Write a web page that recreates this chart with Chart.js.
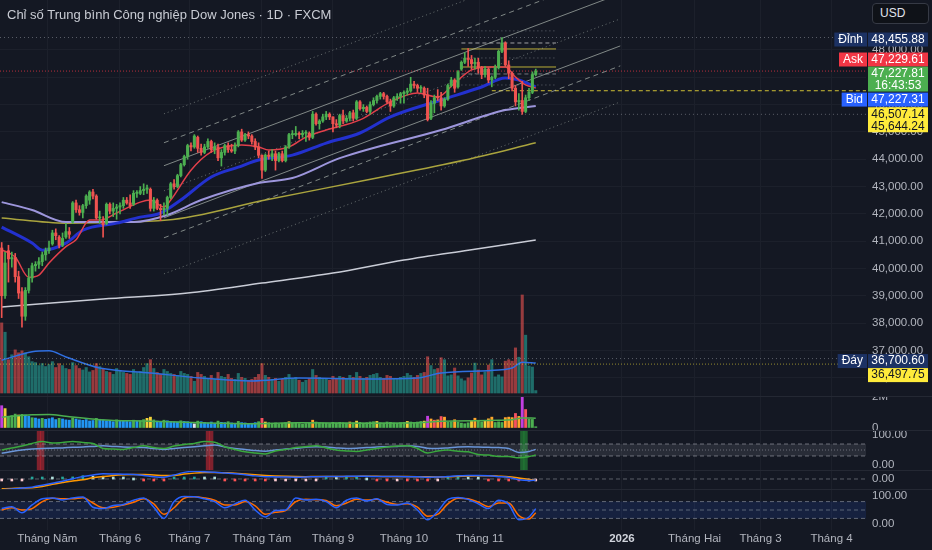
<!DOCTYPE html>
<html lang="vi">
<head>
  <meta charset="UTF-8">
  <title>Chỉ số Trung bình Công nghiệp Dow Jones · 1D · FXCM</title>
  <script src="https://cdn.jsdelivr.net/npm/chart.js"></script>
  <style>
    body { margin: 0; background: #141823; font-family: 'Liberation Sans', Arial, sans-serif; }
    #wrap { position: relative; width: 932px; height: 550px; overflow: hidden; background: #141823; }
    canvas { position: absolute; left: 0; }
    #title { position: absolute; left: 7px; top: 7px; font-size: 13px; color: #c9ccd4; z-index: 3; }
    #usd {
      position: absolute; left: 872px; top: 3px; width: 48px; height: 19px; padding-left: 7px;
      border: 1px solid #363a45; border-radius: 4px; background: #0f1218;
      color: #e0e3eb; font-size: 12px; line-height: 19px; z-index: 3;
    }
    .sep { position: absolute; left: 0; width: 932px; height: 1px; background: #242833; z-index: 2; }
  </style>
</head>
<body>
  <div id="wrap">
    <div id="title">Chỉ số Trung bình Công nghiệp Dow Jones · 1D · FXCM</div>
    <div id="usd">USD</div>
    <canvas id="cPrice" width="932" height="396" style="top:0"></canvas>
    <canvas id="cVol" width="932" height="34" style="top:396px"></canvas>
    <canvas id="cRsi" width="932" height="40" style="top:430px"></canvas>
    <canvas id="cMacd" width="932" height="19" style="top:470px"></canvas>
    <canvas id="cStoch" width="932" height="61" style="top:489px"></canvas>
    <div class="sep" style="top:396px"></div>
    <div class="sep" style="top:430px"></div>
    <div class="sep" style="top:470px"></div>
    <div class="sep" style="top:489px"></div>
  </div>
  <script>
    // bar index 0 = first visible daily candle (mid April 2025)
    const monthTicks = [13.5, 35, 55.5, 77, 98, 119, 141.5, 183.5, 205, 224.5, 245.5];
    const monthLabels = ['Tháng Năm', 'Tháng 6', 'Tháng 7', 'Tháng Tám', 'Tháng 9', 'Tháng 10', 'Tháng 11', '2026', 'Tháng Hai', 'Tháng 3', 'Tháng 4'];

    const opens = [
      40750,39000,40650,40350,40400,39700,39150,38250,39200,39650,
      40100,40150,40250,40500,40650,40900,41300,41150,40850,41150,
      41350,41700,42400,42150,42050,42300,42500,42800,42650,41850,
      41700,41650,42350,42100,42200,42250,42300,42500,42400,42350,
      42750,42750,42850,42900,42900,42200,42500,42200,42150,42200,
      42600,43100,43000,43400,43800,44100,44500,44450,44800,44400,
      44250,44450,44650,44350,44450,44050,44250,44500,44350,44300,
      44500,45000,44700,44900,44850,44650,44450,44150,43600,44150,
      44100,44200,43950,44200,43950,44450,44900,44900,44950,44900,
      44950,44950,44800,45650,45300,45400,45550,45650,45550,45300,
      45250,45600,45400,45500,45700,45500,46100,45850,45900,45750,
      46000,46150,46300,46400,46300,46100,45950,46250,46300,46400,
      46450,46500,46750,46700,46600,46600,46350,45500,46050,46300,
      46250,45950,46200,46700,46900,46650,47300,47550,47700,47650,
      47500,47550,47350,47100,47300,46900,47000,47350,47950,48250,
      47450,47150,46600,46100,46150,45750,46250,46450,47100
    ];
    const highs = [
      40950,40600,40850,40600,40550,39900,39300,39300,40000,40200,
      40250,40400,40600,40750,41000,41400,41450,41200,41300,41650,
      41500,42450,42500,42300,42350,42700,42850,42900,42700,42100,
      41900,42400,42400,42400,42350,42400,42600,42600,42700,42850,
      42850,43000,43100,43050,42950,42600,42550,42350,42400,42650,
      43150,43250,43450,43850,44150,44550,44600,44900,44850,44550,
      44550,44750,44700,44600,44550,44350,44550,44600,44550,44600,
      45050,45100,44950,45000,44900,44750,44600,44150,44200,44300,
      44350,44300,44250,44300,44500,44950,45050,45200,45000,45050,
      45050,45000,45750,45700,45450,45650,45750,45700,45550,45450,
      45650,45800,45600,45750,45800,46150,46150,46000,45950,46100,
      46250,46350,46450,46450,46350,46200,46300,46400,46450,46500,
      46600,47000,46850,46750,46700,46650,46600,46150,46350,46550,
      46450,46250,46750,47000,46950,47250,47600,47900,48050,47800,
      47700,47700,47400,47400,47350,47050,47450,48000,48456,48300,
      47600,47200,46700,46400,46850,46350,46600,47200,47300
    ];
    const lows = [
      38200,38900,39500,40050,39500,38900,37850,38100,39100,39500,
      39900,40000,40100,40300,40550,40850,41050,40750,40800,41100,
      41100,41650,42050,41950,41850,42200,42350,42550,41800,41650,
      41150,41600,42000,41900,41800,42000,42200,42350,42200,42300,
      42600,42700,42700,42750,42100,42100,42150,41750,41950,41950,
      42550,42900,42950,43350,43750,44000,44300,44400,44250,44150,
      44200,44400,44250,44200,43950,43750,44150,44250,44250,44200,
      44450,44650,44650,44750,44550,44350,44050,43300,43550,44000,
      43950,43600,43900,43900,43900,44400,44750,44850,44750,44800,
      44650,44700,44750,45250,45100,45350,45450,45450,45000,45150,
      45150,45300,45350,45400,45400,45450,45800,45750,45700,45650,
      45950,46050,46200,46200,46050,45750,45900,46150,46050,46050,
      46350,46450,46600,46450,46450,46250,45400,45450,45700,46150,
      45800,45900,46150,46650,46450,46600,47250,47500,47400,47300,
      47300,47150,46950,47000,46800,46650,46950,47300,47900,47400,
      46950,46500,45950,45800,45644,45700,46150,46400,47050
    ];
    const closes = [
      39000,40200,40350,40400,39700,39100,38250,39200,39650,40100,
      40150,40250,40500,40650,40750,41300,41200,40850,41100,41350,
      41250,42400,42150,42050,42300,42650,42800,42650,41850,41850,
      41600,42350,42100,42200,42250,42300,42500,42400,42300,42750,
      42750,42850,42900,42950,42200,42500,42200,42150,42200,42600,
      43100,43000,43400,43800,44100,44500,44450,44850,44400,44250,
      44450,44650,44350,44450,44050,44250,44500,44350,44300,44500,
      45000,44700,44900,44850,44650,44450,44150,43600,44150,44100,
      44200,43950,44200,43950,44450,44900,44900,44950,44900,44950,
      44950,44800,45650,45300,45400,45550,45650,45550,45300,45250,
      45600,45400,45500,45700,45500,46100,45850,45900,45750,46000,
      46150,46300,46400,46300,46100,45950,46250,46300,46400,46450,
      46500,46750,46700,46600,46600,46350,45450,46050,46250,46250,
      45950,46200,46700,46900,46600,47200,47550,47700,47650,47500,
      47550,47350,47100,47300,46900,47000,47350,47950,48250,47450,
      47150,46600,46100,46150,45750,46250,46450,47100,47228
    ];
    // volume in thousands
    const volumes = [
      1430,1240,680,780,880,820,860,820,740,640,
      620,560,600,540,580,640,520,600,560,500,
      480,620,560,500,470,520,430,460,600,540,
      500,440,420,380,500,460,420,400,380,480,
      420,440,520,600,680,500,420,380,480,440,
      400,380,360,440,400,380,340,240,420,380,
      340,300,360,280,420,340,320,380,300,280,
      400,320,300,260,280,320,380,600,360,320,
      280,300,240,280,320,380,300,320,260,220,
      260,300,480,360,320,300,280,260,340,300,
      340,320,300,360,320,420,340,300,320,360,
      380,400,320,300,360,340,300,280,320,340,
      400,360,320,360,400,420,740,560,480,500,
      720,680,350,370,510,350,290,250,310,410,
      610,470,370,430,570,680,330,370,330,650,
      680,650,920,730,2000,1180,550,530,50
    ];
    // colour tier of each bar in the relative volume pane: p purple, r red, o orange, y yellow, g green, b blue, w white
    const volTiers =
      'pygggygbbg' + 'bbgbbbbgbb' + 'bgbbbbbbgb' + 'bbbbgbbbbg' + 'bggyygbbgb' +
      'bbbgbbbwgb' + 'bbbbgbbgbb' + 'gbbbbbgryg' + 'gggggygggg' + 'ggoggggggg' +
      'gggogygggg' + 'gygggggggg' + 'yggggyporo' + 'roggoggggy' + 'oggyoogggo' + 'ooroprggg';

    const ema10Idx = [0,4,8,11,14,19,22,26,29,34,41,44,48,50,56,62,71,76,79,85,90,96,106,115,123,129,134,139,144,149,152,155,158];
    const ema10 = [40680,40420,39680,39760,40200,40800,41050,41770,41770,42030,42430,42505,42250,42505,43600,44270,44520,44450,44340,44450,44810,45070,45440,46100,46425,46280,46790,47270,47380,47380,47010,46720,46610];
    const ema20Idx = [0,9,12,19,24,34,41,47,53,62,70,76,86,96,106,115,130,142,149,153,158];
    const ema20 = [41516,40930,40670,40930,41400,41660,41880,42030,42505,43350,43710,43970,44150,44590,44960,45550,46170,46645,46970,46900,46645];
    const sma50Idx = [0,9,19,39,49,59,76,86,100,130,149,158];
    const sma50 = [42430,42140,41700,41700,41960,42505,43130,43310,44040,45070,45800,45950];
    const sma100Idx = [0,19,49,78,108,137,158];
    const sma100 = [41850,41660,41770,42505,43240,43970,44600];
    const sma200Idx = [0,30,55,77,98,119,138,158];
    const sma200 = [38590,38880,39100,39465,39830,40310,40670,41040];
    const volMaIdx = [0,9,14,19,29,44,59,74,88,108,123,130,147,151,154,158];
    const volMa = [670,840,860,735,510,410,305,245,305,285,305,410,470,510,630,610];

    // regression channel: mid line from bar 48 to bar 183, offsets of the side lines
    const channelFrom = 48, channelTo = 183;
    const channelMidFrom = 42842, channelMidTo = 49138;
    const channelOffsets = [2820, 1760, 920, 0, -990, -1720, -3040];

    // horizontal levels drawn near the November top
    const boxFrom = 136, boxTo = 164;
    const boxLevels = [48700, 48256, 48037, 47707, 47377, 47121, 46718];

    const topPrice = 48455.88, askPrice = 47229.61, lastPrice = 47227.81, bidPrice = 47227.31;
    const levelA = 46507.14, levelB = 45644.24, bottomPrice = 36700.60, levelC = 36497.75;
    const countdown = '16:43:53';

    // indicator panes, sampled every third bar
    const indIdx = [0,3,6,9,12,15,18,21,24,27,30,33,36,39,42,45,48,51,54,57,60,63,66,69,72,75,78,81,84,87,90,93,96,99,102,105,108,111,114,117,120,123,126,129,132,135,138,141,144,147,150,153,156,158];
    const rsiGreen = [50,57,63,72,78,73,75,78,75,72,55,53,52,58,64,58,55,63,68,72,78,76,61,52,44,40,37,47,52,58,61,64,57,50,47,45,50,55,60,63,64,55,40,47,50,46,44,35,33,28,28,24,28,33];
    const rsiBlue = [39,45,50,53,55,56,57,59,60,62,64,62,60,59,58,55,52,55,58,61,64,67,60,55,52,48,46,50,53,56,59,61,60,57,55,56,58,60,61,62,64,62,56,55,57,60,61,60,59,58,55,42,45,52];
    const rsiRedBars = [11, 12, 61, 62];
    const rsiGreenBars = [154, 155];
    const macd = [-1140,-1060,-960,-860,-650,-440,-230,20,260,420,550,530,500,480,380,250,190,420,700,820,760,720,640,560,450,330,250,220,200,190,210,250,270,270,280,290,280,270,260,260,250,230,190,200,260,330,360,370,330,250,150,-70,-150,-100];
    const macdSignal = [-1035,-990,-950,-930,-800,-560,-370,-200,-90,120,260,380,450,480,470,420,370,380,520,620,680,690,660,620,530,440,370,320,280,260,250,260,260,265,270,275,280,278,272,268,262,250,230,215,230,270,310,340,340,300,240,100,-40,-90];
    const stochK = [55,62,40,68,90,93,86,93,96,60,55,66,70,85,93,60,20,80,98,97,90,80,58,72,85,50,25,48,50,93,86,88,80,58,85,93,82,90,70,68,75,50,15,45,88,95,88,72,55,85,70,15,25,55];
    const stochD = [50,58,50,55,80,92,90,90,94,75,58,60,68,78,90,72,35,58,92,97,93,85,68,68,80,65,35,42,48,80,88,87,84,65,75,88,86,88,78,70,72,60,28,35,72,92,90,78,62,75,75,30,18,40];

    // ---- drawing ----
    const X_MIN = -0.5, X_MAX = 255.7;
    const FONT = { family: "'Liberation Sans', Arial, sans-serif", size: 11.5 };
    const TXT = '#b2b5be', GRID = '#1c202b';
    const UP = '#4caf50', DOWN = '#ef5350';
    const TIER_COLORS = { p: '#c23fe0', r: '#f7525f', o: '#ffa62b', y: '#f2d13a', g: '#4caf50', b: '#2196f3', w: '#e0e3eb' };
    const fmt2 = v => v.toLocaleString('en-US', { minimumFractionDigits: 2, maximumFractionDigits: 2 });

    const pts = (idx, vals) => idx.map((x, k) => ({ x, y: vals[k] }));
    const seg = (v, x0, x1) => [{ x: x0, y: v }, { x: x1, y: v }];
    function line(data, color, width, dash, order, axis) {
      return {
        type: 'line', data, borderColor: color, borderWidth: width, borderDash: dash || [],
        pointRadius: 0, fill: false, order, yAxisID: axis || 'y', cubicInterpolationMode: 'monotone'
      };
    }

    function xAxis(showLabels) {
      return {
        type: 'linear', min: X_MIN, max: X_MAX, offset: false,
        grid: { color: GRID, drawTicks: false, offset: false },
        border: { display: false },
        afterBuildTicks: s => { s.ticks = monthTicks.map(v => ({ value: v })); },
        afterFit: s => { s.height = showLabels ? 20 : 0; s.paddingLeft = 0; s.paddingRight = 0; },
        ticks: {
          display: showLabels, autoSkip: false, maxRotation: 0, padding: 2,
          color: c => monthLabels[c.index] === '2026' ? '#d1d4dc' : TXT,
          font: c => ({ ...FONT, weight: monthLabels[c.index] === '2026' ? 'bold' : 'normal' }),
          callback: (v, i) => monthLabels[i]
        }
      };
    }
    function yAxis(min, max, tickVals, fmt, showGrid) {
      return {
        position: 'right', min, max,
        grid: { display: !!showGrid, color: GRID, drawTicks: false },
        border: { display: false },
        afterBuildTicks: s => { s.ticks = tickVals.map(v => ({ value: v })); },
        afterFit: s => { s.width = 66; s.paddingTop = 0; s.paddingBottom = 0; },
        ticks: { color: TXT, font: FONT, padding: 6, callback: fmt }
      };
    }
    function options(scales) {
      return {
        responsive: false, animation: false, events: [],
        layout: { padding: 0, autoPadding: false },
        plugins: { legend: { display: false }, tooltip: { enabled: false } },
        scales
      };
    }

    const bars = closes.map((c, i) => i);
    const isUp = bars.map(i => closes[i] >= opens[i]);

    // price tags on the right axis
    const tags = [
      { value: topPrice, nudge: 2, bg: '#1c3264', fg: '#ffffff', lines: [fmt2(topPrice)], label: 'Đỉnh' },
      { value: askPrice, nudge: -11.5, bg: '#f23645', fg: '#ffffff', lines: [fmt2(askPrice)], label: 'Ask' },
      { value: lastPrice, nudge: 8, bg: '#4caf50', fg: '#ffffff', lines: [fmt2(lastPrice), countdown] },
      { value: bidPrice, nudge: 28.5, bg: '#2962ff', fg: '#ffffff', lines: [fmt2(bidPrice)], label: 'Bid' },
      { value: levelA, nudge: 29, bg: '#ffeb3b', fg: '#131722', lines: [fmt2(levelA), fmt2(levelB)] },
      { value: bottomPrice, nudge: 2.5, bg: '#1c3264', fg: '#ffffff', lines: [fmt2(bottomPrice)], label: 'Đáy' },
      { value: levelC, nudge: 11, bg: '#ffeb3b', fg: '#131722', lines: [fmt2(levelC)] }
    ];
    const tagPlugin = {
      id: 'tags',
      afterDraw(chart) {
        const ctx = chart.ctx, y = chart.scales.y;
        ctx.save();
        ctx.font = "12px 'Liberation Sans', Arial, sans-serif";
        ctx.textBaseline = 'middle';
        tags.forEach(t => {
          const yc = y.getPixelForValue(t.value) + t.nudge;
          const h = t.lines.length === 1 ? 14 : 25;
          const top = yc - h / 2;
          ctx.fillStyle = t.bg;
          ctx.fillRect(868, top, 60, h);
          ctx.fillStyle = t.fg;
          ctx.textAlign = 'center';
          t.lines.forEach((s, k) => ctx.fillText(s, 898, t.lines.length === 1 ? yc : top + 7 + k * 12));
          if (t.label) {
            const w = ctx.measureText(t.label).width + 8;
            ctx.fillStyle = t.bg;
            ctx.fillRect(867 - w, top, w, 14);
            ctx.fillStyle = t.fg;
            ctx.fillText(t.label, 867 - w / 2, yc);
          }
        });
        ctx.restore();
      }
    };

    const chanStyle = [[1, 3], [5, 4], [], [1, 3], [], [5, 4], [1, 3]];
    const channelSets = channelOffsets.map((off, k) => line(
      [{ x: channelFrom, y: channelMidFrom + off }, { x: channelTo, y: channelMidTo + off }],
      k === 3 || k === 0 || k === 6 ? 'rgba(190,200,190,0.5)' : 'rgba(200,210,200,0.6)', 1, chanStyle[k], 7));
    const boxStyle = [
      ['rgba(178,181,190,0.5)', [1, 3]], ['rgba(220,220,220,0.7)', [4, 3]], ['rgba(215,200,60,0.85)', []],
      ['rgba(178,181,190,0.5)', [1, 3]], ['rgba(215,200,60,0.85)', []], ['rgba(178,181,190,0.6)', [4, 3]],
      ['rgba(178,181,190,0.5)', [1, 3]]
    ];
    const boxSets = boxLevels.map((v, k) => line(seg(v, boxFrom, boxTo), boxStyle[k][0], 1, boxStyle[k][1], 8));

    new Chart(document.getElementById('cPrice'), {
      type: 'bar',
      data: {
        datasets: [
          { type: 'bar', data: bars.map(i => ({ x: i, y: [opens[i], closes[i]] })), backgroundColor: isUp.map(u => u ? UP : DOWN),
            barThickness: 2.4, minBarLength: 1, grouped: false, order: 0 },
          { type: 'bar', data: bars.map(i => ({ x: i, y: [lows[i], highs[i]] })), backgroundColor: isUp.map(u => u ? UP : DOWN),
            barThickness: 1, grouped: false, order: 1 },
          line(pts(ema10Idx, ema10), '#e2404b', 1.5, [], 2),
          line(pts(ema20Idx, ema20), '#2331cf', 3, [], 3),
          line(pts(sma50Idx, sma50), '#9d96dc', 2, [], 4),
          line(pts(sma100Idx, sma100), '#aaa43e', 1.5, [], 5),
          line(pts(sma200Idx, sma200), '#c9ccd6', 1.5, [], 6),
          ...channelSets,
          ...boxSets,
          line(seg(topPrice, X_MIN, X_MAX), 'rgba(178,181,190,0.45)', 1, [1, 3], 8),
          line(seg(lastPrice, X_MIN, X_MAX), 'rgba(242,54,69,0.75)', 1, [1, 2], 8),
          line(seg(levelA, 145, X_MAX), 'rgba(255,235,59,0.8)', 1, [4, 3], 8),
          line(seg(levelB, 98, X_MAX), 'rgba(178,181,190,0.45)', 1, [1, 3], 8),
          line(seg(bottomPrice, X_MIN, X_MAX), 'rgba(178,181,190,0.45)', 1, [1, 3], 8),
          line(seg(levelC, X_MIN, X_MAX), 'rgba(255,235,59,0.55)', 1, [1, 2], 8),
          line(pts(volMaIdx, volMa), '#2f6fe0', 1.5, [], 9, 'yVol'),
          { type: 'bar', yAxisID: 'yVol', data: bars.map(i => ({ x: i, y: volumes[i] })),
            backgroundColor: isUp.map(u => u ? 'rgba(38,166,154,0.6)' : 'rgba(239,83,80,0.6)'),
            barThickness: 2.4, grouped: false, order: 10 }
        ]
      },
      options: options({
        x: xAxis(false),
        y: yAxis(35330, 49830, [36000, 37000, 38000, 39000, 40000, 41000, 42000, 43000, 44000, 45000, 46000, 47000, 48000], fmt2, true),
        yVol: { display: false, min: -61, max: 8017 }
      }),
      plugins: [tagPlugin]
    });

    new Chart(document.getElementById('cVol'), {
      type: 'bar',
      data: {
        datasets: [
          line(pts(volMaIdx, volMa), '#4caf50', 1.5, [], 0),
          { type: 'bar', data: bars.map(i => ({ x: i, y: volumes[i] })), backgroundColor: bars.map(i => TIER_COLORS[volTiers[i]]),
            barThickness: 2.2, grouped: false, order: 1 }
        ]
      },
      options: options({ x: xAxis(false), y: yAxis(-164, 2066, [0, 2000], v => v === 0 ? '0' : '2M') })
    });

    const full = v => seg(v, X_MIN, X_MAX);
    new Chart(document.getElementById('cRsi'), {
      type: 'bar',
      data: {
        datasets: [
          line(pts(indIdx, rsiGreen), '#3aa83e', 1.5, [], 0),
          line(pts(indIdx, rsiBlue), '#6a95d8', 1.5, [], 1),
          line(full(50), 'rgba(178,181,190,0.5)', 1, [1, 2], 2),
          line(full(30), 'rgba(178,181,190,0.55)', 1, [4, 3], 2),
          { ...line(full(70), 'rgba(178,181,190,0.55)', 1, [4, 3], 3), fill: { value: 30 }, backgroundColor: 'rgba(120,123,134,0.2)' },
          { type: 'bar', data: rsiRedBars.map(i => ({ x: i, y: [-16.7, 116.7] })), backgroundColor: 'rgba(200,40,52,0.6)', barThickness: 3.5, grouped: false, order: 4 },
          { type: 'bar', data: rsiGreenBars.map(i => ({ x: i, y: [-16.7, 116.7] })), backgroundColor: 'rgba(40,160,60,0.55)', barThickness: 3.5, grouped: false, order: 4 }
        ]
      },
      options: options({ x: xAxis(false), y: yAxis(-16.7, 116.7, [0, 100], v => fmt2(v)) })
    });

    const hist = macd.map((m, k) => m - macdSignal[k]);
    const histColors = hist.map((h, k) => {
      const prev = k ? hist[k - 1] : h;
      if (h >= 0) return h >= prev ? '#26a69a' : '#b2dfdb';
      return h < prev ? '#ff5252' : '#ffcdd2';
    });
    new Chart(document.getElementById('cMacd'), {
      type: 'bar',
      data: {
        datasets: [
          line(pts(indIdx, macd), '#2962ff', 1.5, [], 0),
          line(pts(indIdx, macdSignal), '#ff9800', 1.5, [], 1),
          { type: 'bar', data: indIdx.map((x, k) => ({ x, y: hist[k] })), backgroundColor: histColors,
            barThickness: 2, minBarLength: 2, grouped: false, order: 2 },
          line(full(0), 'rgba(178,181,190,0.45)', 1, [4, 3], 3)
        ]
      },
      options: options({ x: xAxis(false), y: yAxis(-1056, 950, [0], v => fmt2(v)) })
    });

    new Chart(document.getElementById('cStoch'), {
      type: 'bar',
      data: {
        datasets: [
          line(pts(indIdx, stochK), '#2962ff', 1.5, [], 0),
          line(pts(indIdx, stochD), '#ff6d00', 1.5, [], 1),
          line(full(50), 'rgba(178,181,190,0.45)', 1, [4, 3], 2),
          line(full(20), 'rgba(178,181,190,0.5)', 1, [4, 3], 2),
          { ...line(full(80), 'rgba(178,181,190,0.5)', 1, [4, 3], 3), fill: { value: 20 }, backgroundColor: 'rgba(41,98,255,0.13)' }
        ]
      },
      options: options({ x: xAxis(true), y: yAxis(-21.4, 125, [0, 100], v => fmt2(v)) })
    });
  </script>
</body>
</html>
